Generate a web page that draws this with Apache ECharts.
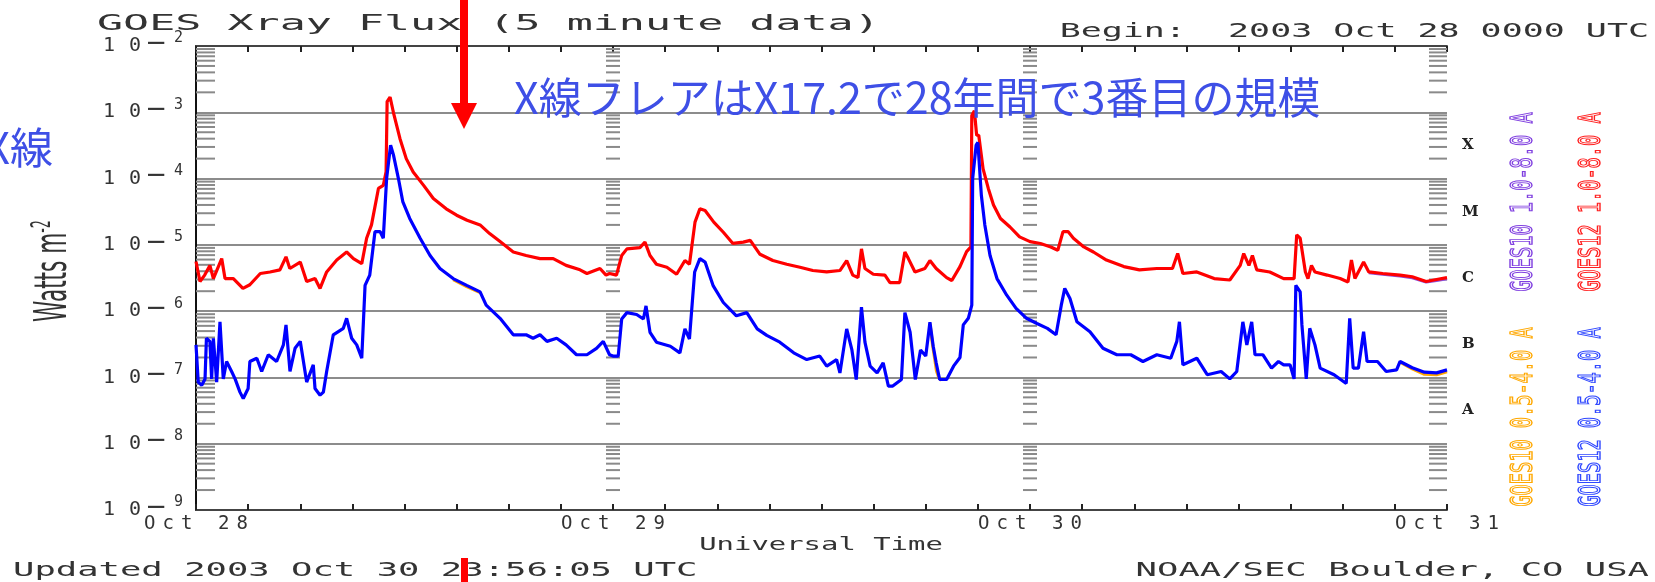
<!DOCTYPE html>
<html><head><meta charset="utf-8">
<script src="https://cdn.jsdelivr.net/npm/echarts@6/dist/echarts.min.js"></script>
<style>html,body{margin:0;padding:0;background:#fff}#c{width:1655px;height:582px}</style>
</head><body><div id="c"></div>
<script>
// ---- data ----
const dayLabels = ['Oct 28', 'Oct 29', 'Oct 30', 'Oct 31'];
const classLabels = ['A', 'B', 'C', 'M', 'X'];
const classCenters = [-7.5, -6.5, -5.5, -4.5, -3.5];
const decades = [-9, -8, -7, -6, -5, -4, -3];
const minorMultipliers = [2, 3, 4, 5, 6, 7, 8, 9];
const ladderHours = [0, 24, 48, 72];

// hours since 2003 Oct 28 00:00 UTC, flux W m^-2
const goes12Long = [
[0,5.6e-6],[0.23,2.8e-6],[0.5,3.5e-6],[0.8,4.9e-6],[1.0,3.1e-6],[1.48,6.2e-6],[1.67,3.1e-6],[2.15,3.1e-6],[2.7,2.2e-6],[3.1,2.5e-6],[3.7,3.7e-6],[4.26,3.9e-6],[4.83,4.2e-6],[5.18,6.6e-6],[5.4,4.4e-6],[6.0,5.5e-6],[6.37,2.8e-6],[6.85,3.1e-6],[7.14,2.2e-6],[7.52,3.9e-6],[8.1,5.9e-6],[8.67,7.8e-6],[9.06,6.2e-6],[9.54,5.2e-6],[9.82,1.26e-5],[10.1,2.0e-5],[10.5,7.1e-5],[10.78,7.9e-5],[10.94,1.26e-4],[11.0,1.45e-3],[11.17,1.7e-3],[11.36,1.0e-3],[11.74,4.0e-4],[12.1,2.0e-4],[12.5,1.26e-4],[13.1,7.9e-5],[13.66,5.0e-5],[14.4,3.5e-5],[15.0,2.8e-5],[15.6,2.35e-5],[16.35,2.0e-5],[16.9,1.48e-5],[17.5,1.12e-5],[18.26,7.8e-6],[19.0,6.9e-6],[19.8,6.2e-6],[20.56,6.2e-6],[21.3,4.9e-6],[22.1,4.2e-6],[22.5,3.7e-6],[23.25,4.4e-6],[23.6,3.5e-6],[23.8,3.7e-6],[24.2,3.5e-6],[24.5,6.9e-6],[24.8,8.7e-6],[25.55,9.1e-6],[25.84,1.1e-5],[26.13,6.9e-6],[26.5,5.1e-6],[27.1,4.6e-6],[27.66,3.6e-6],[28.14,5.8e-6],[28.4,5.1e-6],[28.72,2.2e-5],[29.0,3.5e-5],[29.3,3.3e-5],[29.8,2.2e-5],[30.35,1.55e-5],[30.9,1.05e-5],[31.5,1.1e-5],[31.9,1.17e-5],[32.46,7.2e-6],[33.2,5.8e-6],[34.0,5.1e-6],[34.76,4.6e-6],[35.5,4.1e-6],[36.3,3.9e-6],[37.06,4.1e-6],[37.45,5.8e-6],[37.8,3.5e-6],[38.1,3.2e-6],[38.3,8.7e-6],[38.5,4.4e-6],[38.98,3.6e-6],[39.65,3.5e-6],[39.94,2.7e-6],[40.5,2.7e-6],[40.8,7.8e-6],[41.0,6.2e-6],[41.38,3.9e-6],[41.95,4.4e-6],[42.24,5.8e-6],[42.6,4.4e-6],[43.2,3.2e-6],[43.5,2.9e-6],[43.97,4.7e-6],[44.35,7.9e-6],[44.6,9.3e-6],[44.65,8.9e-4],[44.8,1.05e-3],[44.93,4.5e-4],[45.05,4.5e-4],[45.3,1.4e-4],[45.6,7.1e-5],[45.9,4.0e-5],[46.3,2.5e-5],[46.85,1.86e-5],[47.4,1.32e-5],[48.0,1.12e-5],[48.6,1.05e-5],[49.2,9.3e-6],[49.6,8.3e-6],[49.9,1.58e-5],[50.2,1.58e-5],[50.5,1.26e-5],[51.1,9.3e-6],[51.65,7.8e-6],[52.4,5.9e-6],[53.4,4.7e-6],[54.3,4.2e-6],[55.3,4.4e-6],[56.2,4.4e-6],[56.5,7.4e-6],[56.8,3.7e-6],[57.6,3.9e-6],[58.6,3.1e-6],[59.5,2.95e-6],[60.1,4.9e-6],[60.3,7.4e-6],[60.6,4.9e-6],[60.8,6.9e-6],[61.05,4.2e-6],[61.8,3.9e-6],[62.6,3.1e-6],[63.2,3.1e-6],[63.35,1.41e-5],[63.55,1.26e-5],[63.85,3.9e-6],[64.0,3.1e-6],[64.2,4.9e-6],[64.4,3.9e-6],[65.1,3.5e-6],[65.85,3.1e-6],[66.3,2.75e-6],[66.5,5.9e-6],[66.7,3.1e-6],[67.2,5.5e-6],[67.5,3.9e-6],[68.3,3.7e-6],[69.3,3.5e-6],[70.0,3.3e-6],[70.8,2.8e-6],[71.4,3.0e-6],[72.0,3.2e-6]
];

const goes12Short = [
[0,3.1e-7],[0.13,8.5e-8],[0.33,7.6e-8],[0.52,9.5e-8],[0.6,3.9e-7],[0.8,3.5e-7],[0.9,9.5e-8],[1.0,3.9e-7],[1.19,8.5e-8],[1.38,6.9e-7],[1.57,9.5e-8],[1.76,1.74e-7],[2.05,1.23e-7],[2.25,9.5e-8],[2.53,6.0e-8],[2.72,4.8e-8],[3.0,6.8e-8],[3.1,1.74e-7],[3.5,1.95e-7],[3.78,1.23e-7],[4.16,2.2e-7],[4.64,1.74e-7],[5.03,3.1e-7],[5.18,6.2e-7],[5.41,1.23e-7],[5.7,2.75e-7],[6.0,3.5e-7],[6.37,8.5e-8],[6.75,1.55e-7],[6.85,6.8e-8],[7.14,5.4e-8],[7.33,6.0e-8],[7.52,1.23e-7],[7.9,4.4e-7],[8.48,5.5e-7],[8.67,7.8e-7],[8.96,3.9e-7],[9.25,3.1e-7],[9.54,1.95e-7],[9.73,2.45e-6],[10.0,3.5e-6],[10.3,1.58e-5],[10.6,1.58e-5],[10.78,1.26e-5],[10.97,1.0e-4],[11.2,3.2e-4],[11.36,2.3e-4],[11.65,1.0e-4],[11.9,4.5e-5],[12.3,2.5e-5],[12.9,1.26e-5],[13.47,6.9e-6],[14.04,4.4e-6],[14.8,3.1e-6],[15.58,2.45e-6],[16.35,1.95e-6],[16.7,1.23e-6],[17.5,7.8e-7],[18.26,4.4e-7],[19.0,4.4e-7],[19.4,3.9e-7],[19.8,4.4e-7],[20.2,3.5e-7],[20.76,3.9e-7],[21.3,3.1e-7],[21.9,2.2e-7],[22.5,2.2e-7],[23.05,2.75e-7],[23.44,3.5e-7],[23.8,2.2e-7],[24.0,2.1e-7],[24.3,2.1e-7],[24.5,7.6e-7],[24.8,9.5e-7],[25.36,8.9e-7],[25.75,7.6e-7],[25.9,1.2e-6],[26.13,4.8e-7],[26.5,3.4e-7],[27.3,2.95e-7],[27.85,2.35e-7],[28.14,5.4e-7],[28.4,3.8e-7],[28.7,3.9e-6],[29.0,6.2e-6],[29.3,5.5e-6],[29.77,2.4e-6],[30.35,1.35e-6],[31.1,8.5e-7],[31.7,9.5e-7],[32.3,5.4e-7],[32.85,4.3e-7],[33.6,3.4e-7],[34.4,2.35e-7],[35.15,1.86e-7],[35.9,2.1e-7],[36.3,1.48e-7],[36.87,1.86e-7],[37.06,1.17e-7],[37.45,5.4e-7],[37.75,2.6e-7],[38.0,9.3e-8],[38.3,1.15e-6],[38.5,3.4e-7],[38.8,1.48e-7],[39.2,1.17e-7],[39.55,1.66e-7],[39.85,7.4e-8],[40.1,7.4e-8],[40.6,9.3e-8],[40.8,9.5e-7],[41.1,4.8e-7],[41.4,9.3e-8],[41.7,2.6e-7],[42.0,2.1e-7],[42.24,6.8e-7],[42.43,2.95e-7],[42.6,1.66e-7],[42.8,9.3e-8],[43.2,9.3e-8],[43.6,1.48e-7],[43.97,2.0e-7],[44.16,6.2e-7],[44.45,7.8e-7],[44.65,1.23e-6],[44.7,1.0e-4],[44.9,3.2e-4],[45.0,3.5e-4],[45.2,5.6e-5],[45.4,2.0e-5],[45.7,6.9e-6],[46.1,3.1e-6],[46.66,1.74e-6],[47.2,1.1e-6],[47.8,7.8e-7],[48.4,6.5e-7],[49.0,5.5e-7],[49.5,4.4e-7],[49.8,1.23e-6],[50.0,2.2e-6],[50.3,1.55e-6],[50.7,6.9e-7],[51.45,4.9e-7],[52.2,2.75e-7],[53.0,2.2e-7],[53.8,2.2e-7],[54.5,1.74e-7],[55.3,2.2e-7],[56.1,1.95e-7],[56.45,3.5e-7],[56.6,6.9e-7],[56.8,1.55e-7],[57.6,1.95e-7],[58.2,1.1e-7],[59.0,1.23e-7],[59.5,9.5e-8],[59.9,1.23e-7],[60.25,6.9e-7],[60.48,3.1e-7],[60.76,6.9e-7],[60.95,2.2e-7],[61.4,2.2e-7],[61.9,1.38e-7],[62.3,1.74e-7],[62.6,1.55e-7],[62.97,1.55e-7],[63.2,9.5e-8],[63.3,2.45e-6],[63.55,1.95e-6],[63.65,6.2e-7],[63.9,9.5e-8],[64.1,5.5e-7],[64.4,3.1e-7],[64.7,1.38e-7],[65.5,1.1e-7],[66.2,8.1e-8],[66.4,7.8e-7],[66.6,1.38e-7],[66.9,1.38e-7],[67.2,4.9e-7],[67.4,1.74e-7],[68.0,1.74e-7],[68.5,1.23e-7],[69.1,1.3e-7],[69.3,1.74e-7],[70.0,1.4e-7],[70.7,1.2e-7],[71.4,1.17e-7],[72.0,1.3e-7]
];

// GOES10: only the stretches where it shows beside GOES12
const goes10LongSegments = [
  [[67.5,3.8e-6],[68.3,3.6e-6],[69.3,3.4e-6],[70.0,3.2e-6],[70.8,2.75e-6],[71.4,2.9e-6],[72.0,3.1e-6]]
];
const goes10ShortSegments = [
  [[14.8,3.0e-6],[15.58,2.35e-6],[16.35,1.9e-6]],
  [[42.24,6.5e-7],[42.4,3.0e-7],[42.52,1.9e-7],[42.62,1.25e-7],[42.75,1.0e-7],[42.9,9.0e-8]],
  [[69.3,1.7e-7],[70.0,1.35e-7],[70.7,1.12e-7],[71.4,1.1e-7],[72.0,1.22e-7]]
];

// ---- chart ----
const TXT = '#333';
const MONO = 'DejaVu Sans Mono';
const minorTicks = [];
decades.forEach(d => minorMultipliers.forEach(m => minorTicks.push(m * Math.pow(10, d))));

function spread(s) { return s.split('').map(ch => '{c|' + ch + '}').join(''); }

const series = [];
series.push({
  type: 'custom', xAxisIndex: 0, yAxisIndex: 0, silent: true, z: 1, clip: false,
  data: minorTicks.map(v => [0, v]),
  renderItem: (params, api) => {
    const v = api.value(1);
    const children = ladderHours.map((h, i) => {
      const p = api.coord([h, v]);
      let a, b;
      if (i === 0) { a = p[0]; b = p[0] + 19; }
      else if (i === ladderHours.length - 1) { a = p[0] - 18; b = p[0]; }
      else { a = p[0] - 7; b = p[0] + 7; }
      return { type: 'line', shape: { x1: a, y1: p[1], x2: b, y2: p[1] }, style: { stroke: '#8a8a8a', lineWidth: 2 } };
    });
    return { type: 'group', children };
  }
});
function lineSeries(name, data, color, z) {
  return { name, type: 'line', data, showSymbol: false, symbol: 'none', z,
    lineStyle: { color, width: 3.2 }, emphasis: { disabled: true } };
}
goes10LongSegments.forEach(s => series.push(lineSeries('GOES10 1.0-8.0 A', s, '#8b4fdc', 3)));
series.push(lineSeries('GOES12 1.0-8.0 A', goes12Long, '#ff0000', 4));
goes10ShortSegments.forEach(s => series.push(lineSeries('GOES10 0.5-4.0 A', s, '#ffa500', 3)));
series.push(lineSeries('GOES12 0.5-4.0 A', goes12Short, '#0000ff', 4));

const vText = (text, x, y, color) => ({
  type: 'text', x, y, rotation: Math.PI / 2, scaleX: 0.62, z: 10,
  style: { text, fontFamily: MONO, fontSize: 30, fill: 'rgba(255,255,255,0)', stroke: color, lineWidth: 1.4,
    align: 'center', verticalAlign: 'middle' }
});

const option = {
  animation: false,
  backgroundColor: '#fff',
  grid: { left: 196, right: 208, top: 46, bottom: 72, containLabel: false },
  xAxis: [
    { type: 'value', min: 0, max: 72, interval: 3, position: 'bottom',
      axisLine: { show: true, onZero: false, lineStyle: { color: '#444', width: 2 } },
      axisTick: { show: true, inside: true, length: 6, lineStyle: { color: '#222', width: 2 } },
      splitLine: { show: false },
      axisLabel: { show: true, margin: 5, hideOverlap: false, showMinLabel: true, showMaxLabel: true,
        formatter: v => (v % 24 === 0 ? spread(dayLabels[v / 24]) : ''),
        rich: { c: { fontFamily: MONO, fontSize: 19, width: 18.5, lineHeight: 18, color: TXT } } } },
    { type: 'value', min: 0, max: 72, interval: 3, position: 'top',
      axisLine: { show: true, onZero: false, lineStyle: { color: '#444', width: 2 } },
      axisTick: { show: true, inside: true, length: 6, lineStyle: { color: '#222', width: 2 } },
      splitLine: { show: false }, axisLabel: { show: false } }
  ],
  yAxis: [
    { type: 'log', logBase: 10, min: 1e-9, max: 1e-2, splitNumber: 7, position: 'left',
      axisLine: { show: true, lineStyle: { color: '#111', width: 2 } },
      axisTick: { show: false }, minorTick: { show: false },
      splitLine: { show: true, lineStyle: { color: '#8c8c8c', width: 2 } },
      axisLabel: { margin: 13,
        formatter: v => { const e = Math.round(Math.log10(v)); return '{a|1}{b|0}{m|\u2212}{s|' + (-e) + '}'; },
        rich: {
          a: { fontFamily: MONO, fontSize: 20, width: 16, lineHeight: 30, color: TXT },
          b: { fontFamily: MONO, fontSize: 20, width: 26, lineHeight: 30, color: TXT },
          m: { fontFamily: 'DejaVu Sans', fontSize: 26, width: 26, lineHeight: 16, verticalAlign: 'top', color: TXT },
          s: { fontFamily: MONO, fontSize: 15, width: 16, lineHeight: 16, verticalAlign: 'top', color: TXT }
        } } },
    { type: 'value', min: -9, max: -2, position: 'right',
      axisLine: { show: true, lineStyle: { color: '#111', width: 2 } },
      axisTick: { show: false }, splitLine: { show: false },
      axisLabel: { margin: 15, customValues: classCenters,
        formatter: v => { const i = classCenters.indexOf(v); return i >= 0 ? classLabels[i] : ''; },
        fontFamily: 'DejaVu Serif', fontWeight: 'bold', fontSize: 15, color: '#222' } }
  ],
  series,
  graphic: [
    { type: 'text', x: 97, y: 24, scaleX: 1.97, style: { text: 'GOES Xray Flux (5 minute data)', fontFamily: MONO, fontSize: 22, fill: TXT, align: 'left', verticalAlign: 'middle' } },
    { type: 'text', x: 1649, y: 32, scaleX: 1.84, style: { text: 'Begin:  2003 Oct 28 0000 UTC', fontFamily: MONO, fontSize: 19, fill: TXT, align: 'right', verticalAlign: 'middle' } },
    { type: 'text', x: 821, y: 546, scaleX: 1.7, style: { text: 'Universal Time', fontFamily: MONO, fontSize: 17, fill: TXT, align: 'center', verticalAlign: 'middle' } },
    { type: 'text', x: 13, y: 571, scaleX: 1.87, style: { text: 'Updated 2003 Oct 30 23:56:05 UTC', fontFamily: MONO, fontSize: 19, fill: TXT, align: 'left', verticalAlign: 'middle' } },
    { type: 'text', x: 1649, y: 571, scaleX: 1.87, style: { text: 'NOAA/SEC Boulder, CO USA', fontFamily: MONO, fontSize: 19, fill: TXT, align: 'right', verticalAlign: 'middle' } },
    { type: 'text', x: 55, y: 322, rotation: Math.PI / 2, scaleX: 0.49,
      style: { text: '{w|Watts m}{s|-2}', align: 'left', verticalAlign: 'middle',
        rich: { w: { fontFamily: 'DejaVu Sans', fontSize: 44, lineHeight: 50, fill: TXT },
                s: { fontFamily: 'DejaVu Sans', fontSize: 26, lineHeight: 26, verticalAlign: 'top', fill: TXT } } } },
    vText('GOES10 1.0-8.0 A', 1524, 202, '#8040e0'),
    vText('GOES12 1.0-8.0 A', 1592, 202, '#ff2020'),
    vText('GOES10 0.5-4.0 A', 1524, 417, '#ffa800'),
    vText('GOES12 0.5-4.0 A', 1592, 417, '#3048ff'),
    { type: 'text', x: 514, y: 98, z: 20, style: { text: 'X線フレアはX17.2で28年間で3番目の規模', fontFamily: 'Noto Sans CJK JP', fontSize: 43, fill: '#3e4fe6', align: 'left', verticalAlign: 'middle' } },
    { type: 'text', x: 53, y: 148, z: 20, style: { text: 'X線', fontFamily: 'Noto Sans CJK JP', fontSize: 43, fill: '#3e4fe6', align: 'right', verticalAlign: 'middle' } },
    { type: 'rect', z: 30, shape: { x: 460, y: 0, width: 8, height: 105 }, style: { fill: '#ff0000' } },
    { type: 'polygon', z: 30, shape: { points: [[451, 103], [477, 103], [464, 129]] }, style: { fill: '#ff0000' } },
    { type: 'rect', z: 30, shape: { x: 461, y: 558, width: 7, height: 24 }, style: { fill: '#ff0000' } }
  ]
};
const chart = echarts.init(document.getElementById('c'), null, { renderer: 'canvas' });
chart.setOption(option);
</script></body></html>
